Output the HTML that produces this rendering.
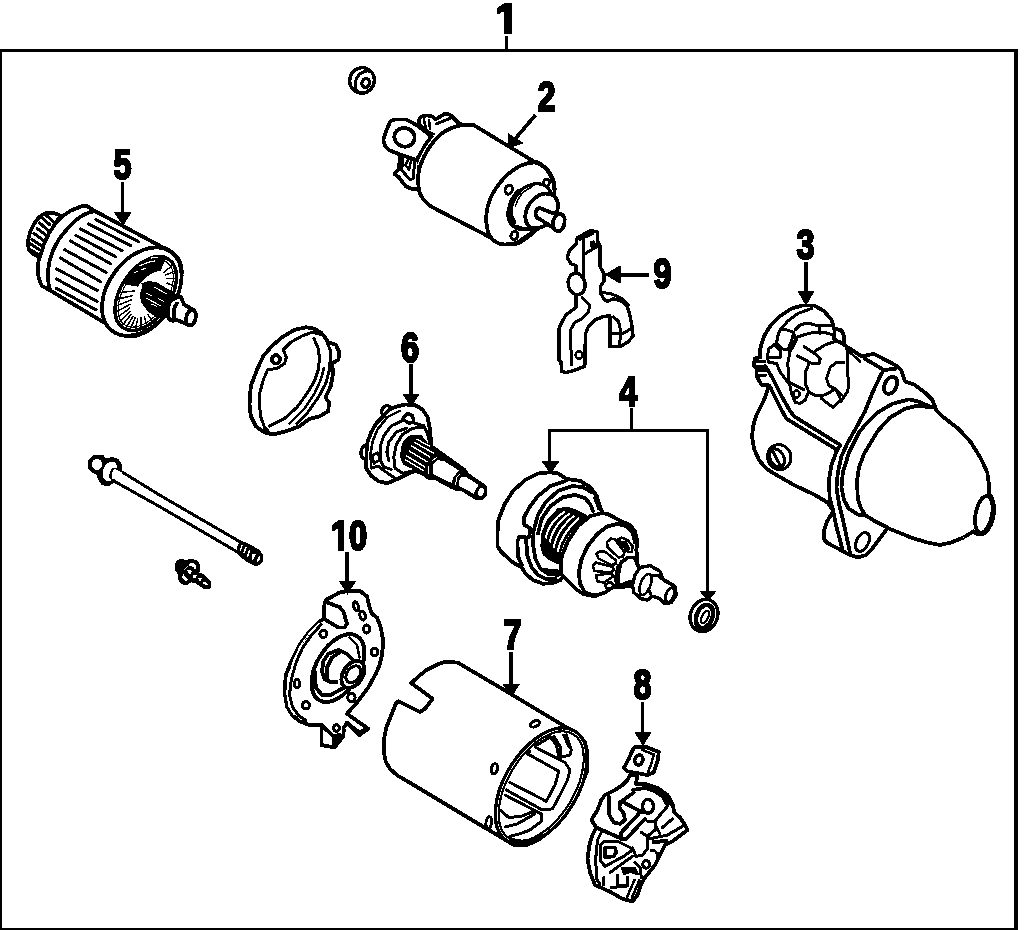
<!DOCTYPE html>
<html>
<head>
<meta charset="utf-8">
<title>Starter motor parts diagram</title>
<style>
html,body{margin:0;padding:0;background:#fff;}
body{width:1024px;height:930px;overflow:hidden;font-family:"Liberation Sans",sans-serif;}
svg{display:block;position:absolute;left:0;top:0;}
.ln{fill:none;stroke:#000;stroke-width:3.8;stroke-linecap:round;stroke-linejoin:round;}
.l3{fill:none;stroke:#000;stroke-width:3;stroke-linecap:round;stroke-linejoin:round;}
.th{fill:none;stroke:#000;stroke-width:2.6;stroke-linecap:round;stroke-linejoin:round;}
.hv{fill:none;stroke:#000;stroke-width:3.6;stroke-linecap:round;stroke-linejoin:round;}
.wf{fill:#fff;stroke:#000;stroke-width:3.8;stroke-linecap:round;stroke-linejoin:round;}
.wt{fill:#fff;stroke:#000;stroke-width:2.6;stroke-linecap:round;stroke-linejoin:round;}
.hl{fill:none;stroke:#000;stroke-width:1.5;stroke-linecap:round;}
.bk{fill:#000;stroke:#000;stroke-width:1;stroke-linejoin:round;}
.wh{fill:#fff;stroke:none;}
.lead{fill:none;stroke:#000;stroke-width:3.7;stroke-linecap:butt;stroke-linejoin:miter;}
.num{font-family:"Liberation Sans",sans-serif;font-weight:bold;font-size:42.5px;fill:#000;stroke:#000;stroke-width:2.4;stroke-linejoin:round;text-anchor:middle;}
</style>
</head>
<body>
<svg width="1024" height="930" viewBox="0 0 1024 930" shape-rendering="crispEdges">
<!-- 00_frame -->
<g id="frame" fill="#000">
<rect x="0" y="49" width="1018" height="3"/>
<rect x="0" y="49" width="2.2" height="881"/>
<rect x="1014" y="49" width="4" height="881"/>
<rect x="0" y="928" width="1018" height="2"/>
</g>
<!-- 02_solenoid -->
<g id="solenoid">
<!-- rear bracket -->
<path class="wf" d="M419 124L419.5 118.500C421 116 424 115.500 428 115.500C431 115.500 433.500 117 435.500 119.500L444.500 114C447 113 450 114.500 452.500 117L458.500 123L463 125.500L452 131L436 140L430 136Z"/>
<path class="l3" d="M436 124L450 118.500"/>
<path class="th" d="M423.800 119.500L426.500 130.500L433.500 134M429 120L430 128.500"/>
<!-- lower tab -->
<path class="wf" d="M400 155L399 169L394.500 174L399 177.500L406 186.500L412 189L419 189L419 160Z"/>
<path class="l3" d="M403 158L401.600 170L409.800 179.500L413 178.800L414.800 161.500"/>
<path class="th" d="M408 160L405.400 165L409 169.500L411 161"/>
<!-- terminal lug -->
<path class="wf" d="M417.500 125.500L406 119.400L395 119.400C392 119.800 390.500 121 389.500 123L386 131.500L383.500 139C383.300 142 384 144 385 145.500C386.500 148 388 149.500 390 150.500L400 154.500L416.500 160L426 144L431.500 136.500Z"/>
<ellipse class="ln" cx="404.500" cy="137.300" rx="10.200" ry="9.300" transform="rotate(15 404.5 137.3)"/>
<!-- body -->
<path class="wf" d="M462.500 125L473.500 125L533 161C545 164 553 174 554.500 186C556 205 545 225 528 237L519 243C513 245 508 245 503 244L431 206.500C425 202 420 196 419 190C417.500 180 418.500 170 420.500 165C425 152 432 142 441 134C448 129 455 126 462.500 125Z"/>
<path d="M436.500 134.500C428.500 143 421.500 154 417.800 165" fill="none" stroke="#fff" stroke-width="1.200"/>
<!-- front face -->
<path class="wf" d="M535 162.500C518 162 500 178 490.500 198C484 214 485 232 493 240C497 243.500 501 244.500 505 244.500L517.500 243L532.500 233C545 224 553 210 554.500 196C555.500 180 548 166 535 162.500Z"/>
<ellipse class="l3" cx="508.800" cy="189.600" rx="3.600" ry="4.600" transform="rotate(20 508.8 189.6)"/>
<ellipse class="l3" cx="546.300" cy="183" rx="3" ry="4" transform="rotate(25 546.3 183)"/>
<ellipse class="l3" cx="514.400" cy="235.600" rx="3.400" ry="4.200" transform="rotate(20 514.4 235.6)"/>
<path class="ln" d="M517.500 242.500L533 232"/>
<!-- boss -->
<ellipse cx="530" cy="206.600" rx="25.800" ry="18.400" transform="rotate(131.7 530 206.6)" fill="#fff" stroke="#000" stroke-width="3.3"/>
<path d="M513.500 222C507.500 214 509.500 201 518.500 192" fill="none" stroke="#000" stroke-width="5.500" stroke-linecap="round"/>
<path class="hl" d="M515.500 206C518 197 524 190 532 187"/>
<path class="ln" d="M516 226.500C522 229.500 530 230 536.500 228.500L548 224.500"/>
<path class="wf" d="M545 193.500C537 194.500 529 202 526 211C524 218 526 225 531 227.500C535 229 541 228 547 224.500C554 220 558.500 212 558 204C557.500 198 553 193.500 545 193.500Z"/>
<!-- plunger -->
<path class="wf" d="M540 208C537 208.500 535.500 211 535.500 213.500C535.500 216 537 218 539.500 219L553 227.500C555 230.500 557.500 231.500 559.500 231C562 230 564 226.500 564.500 222.500C565 218.500 564 215.500 562 214.500L552 213Z"/>
<path class="ln" d="M556.500 215C553.500 218 552 223.500 553.500 228"/>
</g>
<!-- 03_motor -->
<g id="motor">
<!-- main silhouette -->
<path class="wf" d="M760.300 357.300L760.300 348.500L764 336L770.300 326L780.300 316L791.500 308.500L802.800 305.400L814 305.400L824 311L831.500 319.800L834 328.500L841.500 330.400L844 336L844 344.800L861.300 356.300L873.800 353.800L896.300 365.600L901.300 370L905 381.300L915 385L925 392.500L932.500 400L936.300 410L943.800 417.500L958.500 428.800L971 442.500L981 458.800L987.300 472.500L989 485L989 494C993 498 994.500 504 994 512C993 524 987 534 981 534.400C978 534.400 975 533 973.500 531.300L963.500 537.500L951 542.500L939.800 545L927.300 542.500L912.300 538L887.500 528L871.300 550L866.300 555L857.500 557.500L850 555L827.500 543L824.400 540L823.800 531.300L827 521.300L833.500 511L827.500 502.500L815 495L794 485L776.500 475L766.500 468.800L759 460L754 448.800L752 436.300L753.400 425L756.500 415L764 400L769 385.400L761.500 384.800L756.500 376L756.500 368.500L754 366L754.600 358.500Z"/>
<!-- bracket -->
<path class="l3" d="M756.500 361.500L764.500 361.500M757 375L766 375"/>
<path class="bk" d="M757 365.500L765.500 365.500L768 371.500L757.500 371.500Z"/>
<!-- flange arcs top -->
<path class="l3" d="M781.500 328.500L787.800 321L797.800 313.500L811.500 308.500"/>
<!-- windows -->
<path class="l3" d="M780.300 329L786.500 329.800L794 332.300L791.500 341L787.800 349.800L782.800 349L776.500 343.500L777.800 336Z"/>
<path class="l3" d="M774 344.800L769 348.500L767 357.300L769 362.300L776.500 363.500L780.300 372.300L787.800 382.300M769 357.300L780.300 357.300L780.300 351L774 344.800"/>
<path class="l3" d="M793 333L797 339L790 352"/>
<!-- flange edge lines -->
<path class="ln" d="M765.300 366L772.800 378.500L781.500 396L790.300 411.300L794 416.300L840.300 445L836.500 451.300"/>
<path class="ln" d="M770.300 387.300L781.500 410L786.500 418.800L835.300 448.800"/>
<!-- solenoid mount ring -->
<path class="l3" d="M834 339.800L832.800 334.800L824 332.300L814 332.300L804 334.800L796.500 337.300L790.300 349.800L787.800 363.500L789 381L791.500 393.500L795.300 402.300L800.300 403.500L805.300 399.800L807.800 393.500"/>
<path class="l3" d="M795.300 329.800L800.300 324.800L807.800 323L819 326L830.300 325.400M819 326L820.300 333.500M834 331L835.300 339.800L844 343.500"/>
<!-- inner cylinder -->
<path class="l3" d="M809 363.500L805.300 372.300L805.300 383.500L809 392.300L816.500 396L825.300 394.800L834 389.800"/>
<path class="l3" d="M815.300 351L825.300 344.800L836.500 341L844 344.800"/>
<path class="l3" d="M804 346.600L816.500 354.800L820.300 358.500L819 363.500L812.800 364L797.800 356"/>
<path class="l3" d="M844 362.300L836.500 362.300L830.300 367.300L826.500 378.500L829 386L835.300 388.500L841.500 394.800"/>
<path class="l3" d="M846.500 346L847.800 356L847 372.300L849 381L847.800 391L842.800 398.500L832.800 407.300L821.500 398.500M836.500 391L841.500 401"/>
<!-- small bolt -->
<path class="l3" d="M791.500 383.500L799 387.300L804 389.800"/>
<ellipse class="th" cx="796.500" cy="394" rx="3" ry="3.500"/>
<!-- plug -->
<ellipse class="l3" cx="779.300" cy="457.100" rx="12.600" ry="11.600" transform="rotate(70 779.3 457.1)"/>
<ellipse class="l3" cx="777" cy="458" rx="9.600" ry="6.800" transform="rotate(62 777 458)"/>
<path class="l3" d="M772.500 450.500L780.500 466"/>
<!-- right top details -->
<path class="th" d="M848.800 351.300L860 361.300"/>
<path class="ln" d="M865 358.800L883.800 370L895 368.800"/>
<path class="ln" d="M883.800 370L881.300 373.800L872.500 392.500L865 411.300L856.300 427.500L847.800 442.500L841.500 456.300L837.800 472.500L836.500 487.500L839 503.800L843 520L850 552.500"/>
<ellipse class="ln" cx="890.600" cy="385.300" rx="9" ry="6" transform="rotate(115 890.6 385.3)"/>
<!-- motor body arcs -->
<path class="ln" d="M836.500 451.300L831.500 465L829 480L829.600 497.500L833 510L836.300 526.300L840 540L842.500 550"/>
<path class="ln" d="M932.500 407.500L917.500 401.300L908.800 399.400L892.500 403.800L877.500 412.500L865 425L859 432.500L849 452.500L842.800 472.500L841.500 487.500L844 500L848.800 508.800L858.800 515L865 515"/>
<path class="ln" d="M931.300 407.500L917.500 405.600L905 408.800L890 417.500L877.500 431.300L868.800 446L864 453.800L859 467.500L857 481.300L857.800 498.800L861.300 508.800L865 515L875 521.300L887.500 527.500"/>
<!-- lower ear -->
<ellipse class="l3" cx="862.500" cy="541.900" rx="10" ry="6" transform="rotate(116 862.5 541.9)"/>
<!-- end boss -->
<ellipse class="wf" cx="983.800" cy="514.400" rx="18.600" ry="8.200" transform="rotate(101 983.8 514.4)"/>
</g>
<!-- 04_clutch -->
<g id="clutch">
<!-- housing outline -->
<path class="wf" d="M550.500 472.300L538 473.500L525.500 479.800L513 491L504.300 504.800L498 521L497.400 536L497.400 546.300L501.800 552.500L513 562.500L521.800 567.500L525.500 573.800L533 580L543 583.800L553 583L560.500 580L563 576.300L575.500 588.800L583 593.800L594.300 596.300L605 592.500L612.500 587.500L633 586L637.500 558.800L636.300 550L637.500 542.500L635 531.300L630 525L620 520.600L607.500 513.800L603 513.500L600.500 508.500L596.800 496L590.500 487.300L580.500 481L566.800 479L558 473.500Z"/>
<!-- flange / notch -->
<path class="ln" d="M566.800 480.400L550.500 486L538 496L529.300 507.300L523.600 518.500L524.300 524.800L530.500 528.500L529.300 536L528 537.500L519.300 537L517.400 541.300L518 556.300L521.800 565"/>
<path class="ln" d="M526 538.800L527.400 556.300L531.800 567.500L538 575L545.500 578.800L555.500 578.800"/>
<path class="ln" d="M591.800 492.300L583 487.300L573 486L558 491L545.500 502.300L538 514.800L533.600 531L533 545L535.500 558.800L540.500 568.800L548 573.800L558 575"/>
<path class="ln" d="M593 511L590.500 504.800L585.500 498.500L575.500 494.800L563 497.300L550.500 506L541.800 518.500L538 533.500"/>
<path d="M595 496L600 509" fill="none" stroke="#000" stroke-width="5"/>
<!-- spring (dark with white arcs) -->
<path class="bk" d="M558 508.500L568 507.300L575.500 509.800L585.500 514.800L588 517.300L578 526L569.300 537.300L563 551L561.800 562.300L555.500 559.800L545.500 553.500L541.800 546L541.800 533.500L546.800 521Z"/>
<path d="M545.500 538.500C548 527 555 517.500 565 511.500M549.500 542.500C552 531 558.500 521 570 513.500M553.500 548C555.500 537 562 525.500 574.500 515.500M557.500 552C559.500 541 566 529.500 579 518M561.500 555C563 546 569.500 534 583 520.500M565 553C567 546 573 536 585.500 524" fill="none" stroke="#fff" stroke-width="2"/>
<path class="ln" d="M541.800 545L544.300 553.800L550.500 558.800L558 562.500M543 570L558 571.300"/>
<path d="M560.500 557.500L561 576.300" fill="none" stroke="#000" stroke-width="4.200"/>
<!-- barrel front -->
<path class="ln" d="M590.500 516L578 526L568 541L561.800 556L560.500 572"/>
<path class="ln" d="M590.500 516L600.500 513.500"/>
<path class="ln" d="M612.500 587.500L605 592.500L595 595.600L585 592.500L580 583.800L578.800 572.500L581.300 560L587.500 546.300L597.500 533.800L607.500 526.300L617.500 523.800L626.300 526.300L632.500 532.500L635 542.500"/>
<!-- pinion gear -->
<g fill="#fff" stroke="#000" stroke-width="2.600" stroke-linejoin="round">
<path d="M605 585L610 582L613.500 584.500L612 588L606.500 588Z"/>
<path d="M596 575.500L612 573L613 576.500L604 582.500L597.500 581.500Z"/>
<path d="M593 566L595.500 562.500L613 567L613.500 570.500L609.500 572.500L594.500 571Z"/>
<path d="M596.500 553.500L600.500 551L605.500 552L616 560.500L615.500 564L611.500 565L598.500 558.500Z"/>
<path d="M617.500 540L621.500 537.500L627.500 540L632.500 546L632 552L628.500 552Z"/>
<path d="M607 542L611 538.500L615 539.500L624.500 552L623 556.500L618.500 557.500L607.500 547Z"/>
</g>
<path class="bk" d="M620.500 541L626 541.500L630 548.500L628.500 550Z"/>
<!-- hub cone -->
<path class="wf" d="M618 584.500L617.500 571L621.500 562L628 557.500L634.500 557.500L639 568L635.500 581.500L627.500 582.500L621.500 585Z"/>
<path d="M619 566.500L617 577L617.500 585.500" fill="none" stroke="#000" stroke-width="5.500" stroke-linecap="round"/>
<!-- collar + shaft -->
<path d="M640 567.500L650 565.600L660 571.300L662.500 578.800L675 586.300L676.300 595L671.300 602.500L665 603.800L660 598.800L652.500 596.300L647.500 600L641.300 598.800L633.800 592.500L632.500 585L635 575Z" fill="#fff" stroke="#000" stroke-width="3.400" stroke-linejoin="round"/>
<ellipse class="th" cx="645.500" cy="584.500" rx="11" ry="5" transform="rotate(110 645.5 584.5)"/>
<path class="l3" d="M651 575.500L657.500 575.500L665 581.300L674 586M648.500 589L651 594.500"/>
<ellipse class="l3" cx="670" cy="595" rx="7.600" ry="4" transform="rotate(112 670 595)"/>
</g>
<g id="washer4">
<ellipse cx="704" cy="615.500" rx="16.500" ry="13.500" transform="rotate(112 704 615.5)" fill="#fff" stroke="#000" stroke-width="3.400"/>
<ellipse cx="704.500" cy="616.500" rx="12" ry="8" transform="rotate(112 704.5 616.5)" fill="#fff" stroke="#000" stroke-width="4.500"/>
<ellipse cx="705" cy="617" rx="6.500" ry="3" transform="rotate(115 705 617)" fill="#fff" stroke="#000" stroke-width="2.200"/>
</g>
<!-- 05_armature -->
<g id="armature">
<!-- small pinion at left end -->
<path class="wf" d="M62 217C58 213.800 52 212.300 46 213.200C39.500 215 34 222.500 30.500 231C28 238 27.500 245.500 29 249.500C31 253.500 35 255.500 40 257.500L48 240L58 222Z"/>
<path class="ln" d="M59 218C52.500 226.500 45.500 240 42 256"/>
<path class="l3" d="M46 215L53.500 222M43 218.500L49.800 224.800M39.800 223L48.500 231M37.300 228.500L45.400 234.800M33.800 233.300L43.500 240.400M31.800 239.300L41 245.400M30.600 244L39 249.300M31 250L37.500 254"/>
<!-- collar + body outline -->
<path class="wf" d="M62 216.5L71 210.5L81 206.5L86.5 205.5L93 210L163 247.5C176 252 183 262 181.5 275C180 300 160 330 135 336C128 337 124 334 120 332L49.5 290L42 286C38 279 36.5 270 39 259L40 257C44 240 52 226 62 216.5Z"/>
<path class="ln" d="M93.5 211.5C82 213 70 224 58.5 240C51 252 47.5 266 48 278C48.3 283 49 287 50 290"/>
<!-- slots -->
<path class="l3" d="M96 219.8L138.5 241.6M88.5 224L130.5 245.5M80.5 229L122 250.6M76 235.4L116 257M70.4 241L111 264M64.8 249.8L106 272.3M60.4 258L100.4 281.6M56.6 269L97.3 290.4M56.6 279L97.3 301.6M56.6 288.5L96 309.8"/>
<!-- end face -->
<ellipse class="wf" cx="141.8" cy="291.6" rx="49.2" ry="33.3" transform="rotate(127.1 141.8 291.6)"/>
<ellipse cx="145.7" cy="293.5" rx="41.200" ry="24.800" transform="rotate(123.7 145.7 293.5)" fill="#fff" stroke="#000" stroke-width="3.400"/>
<ellipse cx="145.7" cy="293.5" rx="37.800" ry="21.600" transform="rotate(123.7 145.7 293.5)" fill="none" stroke="#000" stroke-width="1.200"/>
<!--GEN5-->
<path class="bk" d="M123.7 283.8L125.1 281.6L126.5 279.3L128.1 277.2L129.7 275.1L131.5 273.1L133.2 271.2L135.1 269.3L136.9 267.6L138.9 266.0L140.8 264.6L142.8 263.2L144.8 262.0L146.7 261.0L148.7 260.0L150.7 259.3L152.6 258.6L154.5 258.2L156.4 257.9L158.2 257.7L160.0 257.7L161.7 257.9L163.4 258.2L164.9 258.7L160.1 270.9L159.2 270.8L158.4 270.9L157.5 271.0L156.5 271.1L155.6 271.4L154.6 271.7L153.6 272.1L152.6 272.5L151.6 273.1L150.6 273.7L149.6 274.3L148.5 275.0L147.5 275.8L146.4 276.6L145.4 277.5L144.4 278.5L143.4 279.4L142.4 280.5L141.4 281.6L140.5 282.7L139.6 283.8L138.7 285.0L137.8 286.2Z"/>
<path class="hl" d="M151.4 311.7L157.7 316.3M147.8 314.4L152.3 321.2M144.3 316.5L146.7 325.0M140.9 317.8L141.0 327.6M137.8 318.2L135.5 329.1M135.1 317.7L130.4 329.2M132.9 316.5L125.9 328.1M131.2 314.4L122.0 325.7M130.2 311.6L119.0 322.1M129.8 308.2L117.0 317.5M130.1 304.3L116.0 312.0M131.1 300.0L116.1 305.9M132.7 295.5L117.3 299.3M134.8 291.0L119.5 292.5"/>
<path class="hl" d="M163.9 272.3L172.5 265.2M165.9 274.9L174.8 271.1M167.1 278.5L175.4 278.3M167.1 283.1L174.4 286.3M166.1 288.3L171.8 294.8M164.2 293.9L167.7 303.2"/>
<path d="M139 266L149 262M141 270L146 268M134 273L138 271M151 258L158 257.5M147 262.5L155 261" fill="none" stroke="#fff" stroke-width="1.2"/>
<!--/GEN5-->
<!-- hub -->
<path class="bk" d="M141.5 284L148 281.5L156 282.5L177 295L170 304L172 314L166 317L158 318L148 311L141.5 302L140 293Z"/>
<path class="wh" d="M139.5 283.5C141 283 142.5 284.5 142 287L139.5 295C138 296 137 295 137.5 293Z"/>
<path class="wh" d="M134.5 297.5C137 297 139 299 140 302L145 309C143 311 138 311 135.5 308.5C133.5 305 133.5 301 134.5 297.5Z"/>
<path d="M154 287L167 294M146.5 293L152 296M158 298.5L164 301.5M146 298L161 306M151.5 304L157 306.5" fill="none" stroke="#fff" stroke-width="1"/>
<!-- collar + stub -->
<path class="wf" d="M171 301C174 298 178 296.5 181 297L184 304.5L193.5 310C196 312 196.5 316 195 320.5C193.5 324 191 326 188.5 325L176 319.5C174 321 171.5 321 169.5 319.5C167 316.5 167 309 169.5 303Z"/>
<path class="ln" d="M177 303.5C174.500 306 173 312 174 318"/>
<path class="ln" d="M191.500 309.500C188 311 185 317 186 323"/>
</g>
<!-- 06_shaft -->
<g id="shaft6">
<!-- carrier plate outline -->
<ellipse cx="386.500" cy="411" rx="4.500" ry="5.500" transform="rotate(30 386.5 411)" fill="#fff" stroke="#000" stroke-width="3.400"/>
<ellipse cx="365" cy="452" rx="4" ry="6.500" transform="rotate(10 365 452)" fill="#fff" stroke="#000" stroke-width="3.400"/>
<path class="wf" d="M405 404.500L395 407L389 410L382.500 417L376.300 423.300L371.300 432L367.500 442L366.500 452L366.300 468.300L371.300 475.800L378.800 481.400L387.500 483.300L396.300 479.500L403.800 475.800L415 470.800L430 476L431.300 444.500L430 429.500L427.500 417L422.500 409.500L415 405Z"/>
<path class="th" d="M400 410.800L387.500 417L377.500 429.500L372.500 442L370.500 454.500L371.300 467"/>
<path class="l3" d="M402.500 420.800L391.300 425.800L383.800 435.800L380 447L380 459.500L383.800 467L391.300 469.500"/>
<path class="l3" d="M406.300 428.300L396.300 432L388.800 442L386.900 452L388.800 460.800"/>
<path class="l3" d="M422.500 427L412.500 428.300L402.500 434.500L396.300 444.500L393.800 457L395 468.300L402.500 473.300L412.500 470.800"/>
<path class="l3" d="M415 423.300L423.800 425.800L427.500 433.300L430 444.500"/>
<path d="M402.500 419L407.500 413.300L412.500 415.800L413.800 422L408.800 423.300Z" fill="#fff" stroke="#000" stroke-width="3.400" stroke-linejoin="round"/>
<path class="th" d="M372 456L377.500 452.500L380 459.500L374 463.500Z"/>
<path class="l3" d="M371.500 468L378 466L386 472L396 479"/>
<!-- splined section + shaft silhouette -->
<path class="bk" d="M410 435.800L421.300 435.800L427.500 443.300L432.500 445.500L446.600 455.600L465.300 468.900L468.400 473.600L486.400 486.100L486.800 494.700L482.500 499.400L476.300 499.800L460.600 490L457.500 490.800L451.300 488.400L434 479L427.800 479L420 473.300L412.500 468.300L403.800 464.500L400.500 457L401.500 447L404 441Z"/>
<path d="M413.800 442L433.800 453.300M411.300 445.800L430 457M408.800 450.800L427.500 462M406.300 455.800L425 467M405 459.500L423.800 470.800M416.500 439L430 446.500" fill="none" stroke="#fff" stroke-width="1.400"/>
<path class="wh" d="M432.900 465L436.800 460.300L443.400 460.700L459 470.500L453.600 476.700L451.600 483L432.900 474Z"/>
<path class="wh" d="M459 480.600L461.400 477.100L466.900 477.500L478.600 485L475.900 489.200L473.900 493.900L459 485.700Z"/>
<ellipse class="wh" cx="481" cy="492" rx="2.800" ry="4.300" transform="rotate(25 481 492)"/>
<path d="M455.500 485.300L456.700 477.500L459.800 474.400M428.600 465.800L428.200 474.400M431.700 461.100L437.200 457.200" fill="none" stroke="#fff" stroke-width="1"/>
</g>
<!-- 07_yoke -->
<g id="yoke">
<path class="wf" d="M562.500 725L498 686.300L457.500 662.500L445 662L437.500 664.400L426.300 670L418.800 676.300L411.300 683L432.500 698.800L425 708.800L420 712L398.800 701.300L396.300 702.500L391.300 715L386.300 727.500L383.800 740L383.800 751.300L385.600 761.300L390 768.800L397.500 775.600L407.500 781.300L445 803.800L482.500 826.300L501.300 837.500L513.800 845L527 845L540 839L557.500 823.800L570 807.500L582.500 782.500L587.500 770L587.500 752.500L585 742.500L577.500 733.800Z"/>
<!-- small holes -->
<ellipse class="l3" cx="535" cy="723.800" rx="4.800" ry="2.800" transform="rotate(-25 535 723.8)"/>
<ellipse class="l3" cx="494.400" cy="768.800" rx="3" ry="5.200" transform="rotate(12 494.4 768.8)"/>
<ellipse class="l3" cx="488.800" cy="822.500" rx="2.800" ry="5.800" transform="rotate(8 488.8 822.5)"/>
<!-- face ellipses -->
<ellipse cx="541.200" cy="786.200" rx="64.500" ry="36.500" transform="rotate(121.5 541.2 786.2)" fill="#fff" stroke="#000" stroke-width="3.300"/>
<ellipse cx="541.200" cy="786.200" rx="61" ry="33" transform="rotate(121.5 541.2 786.2)" fill="none" stroke="#000" stroke-width="2.200"/>
<!-- pole piece -->
<path class="l3" d="M535 747L565 762.500L570 770L567.500 780L560 795L552.500 808.800L542.500 810L506.300 790"/>
<path class="l3" d="M527.500 753.800L558.800 771.300L555 785L546.300 801.300L510 782.500"/>
<path class="l3" d="M530 751.300L527.500 753.800"/>
<path class="l3" d="M535 746.300L550 737"/>
<path class="l3" d="M550 736.300L556.300 745L558.800 756.300"/>
<path class="l3" d="M553.800 736.300L560 746.300L560 757.500L570 755L571.300 750L566.300 735"/>
<path class="l3" d="M563.800 735L568.800 746.300"/>
<!-- lower pole -->
<path class="l3" d="M505 795L533.800 810L541.300 813.800L541.300 821.300L530 830L520 833.800L510 836.300"/>
<path class="l3" d="M500 810L508.800 817.500L521.300 816.300L533.800 811.300"/>
<path class="l3" d="M505 827L517.500 823.800L535 813.800"/>
<!-- bottom band -->
<path d="M511 839.500C520 843.500 531 842 541 835.500" fill="none" stroke="#000" stroke-width="4.500" stroke-linecap="round"/>
</g>
<!-- 08_brushholder -->
<g id="brushholder">
<!-- body silhouette -->
<path class="wf" d="M630 775L627.500 780L622.500 785L615 790L605 795L601.300 800L597.500 810L591.300 820L596.300 827.500L592.500 835L589.400 845L587.500 858.800L590 872.500L595 885L603.800 888.800L611.300 892.500L622.500 898.800L632.500 901.300L637.500 895L641.300 883.800L645 877.500L655 865L660 855L665 845L672.500 841.300L687.500 830L685 825L680 817.500L674.400 812.500L672.500 803.800L667.500 795L657.500 788L645 783.800L636 783.800L637.500 775Z"/>
<!-- terminal -->
<path class="wf" d="M635 747L646.300 747L658.800 752L657.500 761.300L653.800 772.500L647.500 775L636.300 773L627.500 771.300L623.800 768L628.800 758.800L632.500 750Z"/>
<path class="th" d="M642.500 750L653.800 754.400L651.300 763.800L648 772"/>
<ellipse cx="638.800" cy="760" rx="4" ry="5" transform="rotate(15 638.8 760)" fill="#fff" stroke="#000" stroke-width="3.600"/>
<!-- upper arc thick -->
<path d="M645 784.500L657.500 788.500L667 795.500L672 804" fill="none" stroke="#000" stroke-width="5" stroke-linecap="round"/>
<path class="ln" d="M633 790L645 788L655 791.300L662.500 796.300L667.500 805"/>
<!-- S curve -->
<path class="ln" d="M608.800 796.300L609.400 815L613.800 822.500L620 823.800L625 820L623.800 813.800L619.400 807.500L620 802.500L625 798.800L633.800 792.500"/>
<path class="ln" d="M623.800 802.500L642.500 812.500"/>
<ellipse cx="648" cy="806.300" rx="5.400" ry="7" fill="#fff" stroke="#000" stroke-width="3.400"/>
<!-- arm -->
<path class="ln" d="M638.800 813.800L621.300 832.500L620.600 838.800L626.300 838.800L645 818.800"/>
<path class="ln" d="M596.300 827.500L618.800 837.500"/>
<!-- right details -->
<path class="l3" d="M667.500 806.300L660 815L655 821.300L647.500 821.300"/>
<path class="l3" d="M655 825L660 833.800M662.500 827.500L672.500 818.800"/>
<path class="l3" d="M641.300 832.500L647.500 836.300L655 830L656 822"/>
<path class="l3" d="M650 838.800L667.500 835L682.500 826.300"/>
<path d="M652 842L668 841" fill="none" stroke="#000" stroke-width="4"/>
<path class="l3" d="M647.500 837.500L647.500 848.800L642.500 855L636 856.500L632.500 848"/>
<!-- lower-left -->
<path class="l3" d="M602.500 830L597.500 840L595.600 860L597 880L600 883.800"/>
<path class="l3" d="M603.800 841.300L617.500 841.300L630 847.500L632.500 850L623.800 856.300L605 866.300L600 860L600 846.300Z"/>
<path d="M605 847.500L615 847.500L616.300 852.500L613.800 856.300L605 857.500Z" fill="#fff" stroke="#000" stroke-width="3.600" stroke-linejoin="round"/>
<path class="l3" d="M610 872.500L632.500 856.300"/>
<path class="bk" d="M621.300 867.500L635 867.500L638.800 875L630 872.500L623.800 875Z"/>
<path class="l3" d="M603.800 877.500L603.800 885M617.500 875L617.500 885L627.500 885L627.500 877.500M611.300 887.500L627.500 886"/>
<path class="th" d="M634.500 880L627 897M639.300 880.500L632 897.500"/>
<ellipse class="l3" cx="646.300" cy="864.400" rx="3.600" ry="3.800"/>
<path class="l3" d="M635 862.500L640 867.500L641.300 877.500"/>
<path class="l3" d="M651.300 850.600L655 851"/>
<path class="bk" d="M655.500 851.500L660 853L657 860Z"/>
</g>
<!-- 09_fork -->
<g id="fork">
<path style="stroke-width:3.4" class="wf" d="M591 230.600L597.300 232L598 243.800L599.800 245L599.800 266.300L604 273.800L604 281.300L600.400 286.300L601 293.800L604 299.400L607.300 301.300L613.500 298.800L622.300 301.300L627.300 306.300L629.800 315L632.300 327.500L633 336L628.500 341.500L621 346.300L609.800 346.300L609.800 315.600L602.300 317L594.800 320L588.500 326.300L585.400 333.800L584.800 366.300L573.500 370.600L566 372.500L561.600 371.300L561 361.300L559 360L559 328.800L561.600 322.500L566 315L576 307.500L576 297.500L576 265.600L571 263.800L567.300 257.500L569.800 250L576 243.800L577.300 238L586 233Z"/>
<path class="l3" d="M583.500 240L583.500 279"/>
<path class="l3" d="M579.800 239.400L592.300 233.800M584.800 253.800L597.300 246.300"/>
<path d="M590.500 241.500L594 240L596.500 245.500L591.500 248L589.500 245Z" fill="#000"/>
<ellipse cx="576.600" cy="284" rx="8.400" ry="10.800" transform="rotate(-12 576.6 284)" fill="#fff" stroke="#000" stroke-width="3.400"/>
<path class="l3" d="M582.300 297.500L589.800 305L588.500 312L581 319.400L574.800 322.500L571 328.800L570.400 335L571.600 365"/>
<path class="l3" d="M602.300 292.500L611 293.800L621 298L628.500 305"/>
<path class="l3" d="M613.500 317L618.500 321.300L620.400 330L619.800 345M611 333L622.300 333.800L631 328.800"/>
<ellipse class="th" cx="579" cy="355" rx="3.300" ry="3.800"/>
</g>
<!-- 10_brushplate -->
<g id="brushplate">
<path class="wf" d="M347 591.300L359.500 590.600L367 596.300L369.500 607.500L372 613.800L377 617.500L380.800 627.500L383.300 641.300L382 655L379.500 665L375.800 673.800L368.300 687.500L357 702.500L347 713.800L368.300 728.800L359.500 735L347 722.500L343.900 727.500L343.300 736.300L334.500 747.500L321.400 745L321.400 725L309.500 725L299.500 721.300L292 715L287 706.300L284.500 691.300L285.800 675L292 660L299.500 645L309.500 631.300L319.500 621.300L323.900 618.800L324.500 602.500L327 599.400L339.500 592.500Z"/>
<path class="l3" d="M321.300 624.300L311.300 635.500L302.500 648L296.300 661.800L291.300 679.300L289.500 695L292.500 707L298.800 715.800L306 720.500"/>
<path d="M319.500 622.800L309.600 632.800L300.300 645.900L293.400 660.500L288.400 678L286.700 693L289 706.500L294.500 715.500" fill="none" stroke="#fff" stroke-width="1.100"/>
<path class="ln" d="M327 602.500L339.500 607L343.300 611.300L347 623.800L344.500 627.500L338.300 627.500L325.800 620"/>
<!-- holes -->
<ellipse class="l3" cx="356" cy="606.300" rx="2.3" ry="4.5" transform="rotate(-15 356 606.3)"/>
<ellipse class="l3" cx="362.600" cy="615.600" rx="2.7" ry="4.5" transform="rotate(-10 362.6 615.6)"/>
<ellipse class="l3" cx="366.800" cy="629" rx="3.1" ry="4.1"/>
<ellipse class="l3" cx="374.500" cy="652" rx="3.1" ry="3.9"/>
<ellipse class="l3" cx="323.300" cy="633.800" rx="3.5" ry="3.7"/>
<ellipse class="l3" cx="297" cy="683.800" rx="2.7" ry="4.3"/>
<ellipse class="l3" cx="305.800" cy="705.300" rx="3.7" ry="3.7"/>
<ellipse class="l3" cx="351.400" cy="697.500" rx="3.7" ry="4.3"/>
<ellipse class="l3" cx="336.400" cy="728" rx="3.1" ry="3.3"/>
<!-- tab details -->
<path class="ln" d="M321.400 725L333.300 736.300L339.500 735M333.300 736.300L334.500 746.300"/>
<path class="bk" d="M334.500 737L342.500 736.500L335 746.500Z"/>
<path class="ln" d="M349.500 725L359.500 732.500L364.500 730"/>
<!-- center ring -->
<ellipse cx="338" cy="668.100" rx="37.200" ry="21.500" transform="rotate(120.5 338 668.1)" fill="#fff" stroke="#000" stroke-width="4"/>
<path class="th" d="M349.500 637.500L357 645L359.500 657.500"/>
<path class="ln" d="M315 672.500L315.800 687.500L322 695L330.800 695L339.500 690L344.500 687.500"/>
<path class="ln" d="M322 671.300L323.300 661.300L328.300 653.800L338.300 650L347 653.800L353.300 660"/>
<path class="ln" d="M327 677.500L327 667.500L332 657.500L339.500 652.500"/>
<path d="M322 671.300L324.500 678.800L330.800 682L338.300 682" fill="none" stroke="#000" stroke-width="4"/>
<!-- hub -->
<ellipse class="wf" cx="352.900" cy="674.400" rx="14.800" ry="9.800" transform="rotate(123 352.9 674.4)"/>
<ellipse cx="353.300" cy="674.300" rx="9.300" ry="6.300" transform="rotate(126 353.3 674.3)" fill="#fff" stroke="#000" stroke-width="3"/>
</g>
<!-- 11_washer_top -->
<g id="washer-top">
<ellipse cx="362" cy="80.400" rx="12.300" ry="12.800" transform="rotate(20 362 80.4)" fill="#fff" stroke="#000" stroke-width="3.4"/>
<path d="M371 71.500C364 69.500 357 74 355.500 82C354.500 88 356.500 92 360.500 93.500" fill="none" stroke="#000" stroke-width="3"/>
<ellipse cx="365.700" cy="83" rx="3.700" ry="4.500" transform="rotate(20 365.7 83)" fill="#fff" stroke="#000" stroke-width="3.4"/>
</g>
<!-- 12_cover -->
<g id="cover">
<path class="wf" d="M273.300 434.400L264.500 432.500L255.800 426.300L250.800 416.300L249.500 404L250.800 386L257 369.800L263.300 356L272 346L282 337.300L294.500 329.800L305.800 327.300L313.300 328.500L320.800 332.300L325.800 338.500L328.300 342.300L335.800 344.800L339.500 352.300L338.300 359.800L332 363.500L333.300 372.300L330.800 386L325.500 397.500L328.900 402.500L328.300 411.300L319.500 416.300L309.500 418.800L299.500 426.300L285.800 431.300Z"/>
<path class="l3" d="M268.300 431.300L264.500 427.500L260.500 416L259 396L263.300 379.800L267.600 369.800L277 368.500L284.500 363.500L286.400 357.300L283.300 349.800L290.800 342.300L302 336L312 332.300L320.800 334.500"/>
<ellipse cx="276" cy="359.400" rx="4" ry="4.300" fill="#fff" stroke="#000" stroke-width="3.800"/>
<path class="l3" d="M313.900 338.500L318.300 348.500L319.500 358.500L318.300 369.800L314.500 381L307 393.500L297 407.300L284.500 418.500L269.500 426"/>
<path class="th" d="M323.900 368L320.800 379.800L314.500 393.500L304.500 408.500L289.500 423.500"/>
<path class="l3" d="M325.800 338.500L329.500 348.500L330.800 351L329.500 369.800L325.800 383.500L318.300 397.300L307 413.500L297 423.500"/>
</g>
<!-- 13_bolt -->
<g id="bolt">
<!-- shaft -->
<path d="M118 469.500L160 495.300L208 523.200L240 541.800L250 546L259 551.500L261.800 556L261 562L256.500 564.800L247.500 560.800L236.500 551.500L208 534.800L160 506.800L112 480Z" fill="#fff" stroke="#000" stroke-width="3" stroke-linejoin="round"/>
<path d="M240 541.800L250 546L259 551.500L261.800 556L261 562L256.500 564.800L247.500 560.800L236.800 552L237 546.500Z" fill="#000"/>
<path d="M242 545.500L240.500 550M246 547.500L244 552.500M249.500 550.500L247.500 556.500" fill="none" stroke="#fff" stroke-width="1.500" stroke-linecap="round"/>
<path class="wh" d="M252 553.500L256 553.500L253.500 558.500L252 560Z"/>
<path class="wh" d="M259.500 556L260 559.500L257 563L257.500 559Z"/>
<!-- head -->
<path class="bk" d="M93.800 455L102.500 455L106 459L112 457.500L118 459.500L121 464L121.500 470L113 483L108 486L102 484.500L98.500 479.500L97 474.500L92 472L88 468L88.500 461Z"/>
<ellipse class="wh" cx="97" cy="464.400" rx="5.200" ry="5.600"/>
<path d="M103 471C104 465 108 461.500 112.500 461.500C116 462 117 465 117.500 468L113.500 467.500C110.500 469 108.500 473 109.500 478L111.500 480.500C108 482 104.500 481 103.500 478C102.800 476 102.700 473.500 103 471Z" fill="#fff"/>
<path d="M114.500 468.500C112 471 111.500 475 112.500 478.500L119 481.500L122 472.500Z" fill="#fff"/>
</g>
<g id="screw">
<path class="bk" d="M181 559L186 560.500L191.600 559.300L196 560.500L199 563.600L199.800 568L198.800 573L203.500 574.300L208.500 579.300L211 583L210.700 586.800L208.500 589L204 588.600L199.800 585.500L196 583L191 581.800L186 584.900L181.600 583.600L178.500 579.300L177.900 573L175.400 569.900L175 564.300L177.900 560.500Z"/>
<path class="wh" d="M187.900 564.900L191 563L194.100 563.300L196 566.100L195.400 569.900L193.500 567.400L191 566.100Z"/>
<path class="wh" d="M182.900 573L182.300 578L185.400 581.100L188.500 579.900L185.400 577.400L183.800 574.300Z"/>
<path class="wh" d="M187.300 570.500L189.800 569.900L192 571.400L189.800 574.900Z"/>
<path class="wh" d="M192.900 574.900L197 574.900L196 578L192.900 577.700Z"/>
<path class="wh" d="M197.900 578L202.300 578.300L199.800 582Z"/>
<path class="wh" d="M202.900 583L205 581.100L207.900 584.900L203.500 584.300Z"/>
<path d="M184 570L188 566" fill="none" stroke="#fff" stroke-width="0.800"/>
</g>
<!-- 90_labels -->
<g id="leaders">
<line class="lead" x1="506.5" y1="36" x2="506.5" y2="50"/>
<!-- 2 -->
<line class="lead" x1="535.5" y1="115" x2="515" y2="139"/>
<path class="bk" d="M508.5 134L522.5 143L509 148Z"/>
<!-- 3 -->
<line class="lead" x1="806" y1="262" x2="806" y2="292"/>
<path class="bk" d="M798 291H814L806 305Z"/>
<!-- 4 -->
<path class="lead" style="stroke-width:3" d="M631 408V432M549.5 462V430.500H707.500V592"/>
<path class="bk" d="M542 461H559L550.5 473Z"/>
<path class="bk" d="M700 591H716L708 601Z"/>
<!-- 5 -->
<line class="lead" x1="122.5" y1="182" x2="122.5" y2="213"/>
<path class="bk" d="M114.5 212.5H131L123 225Z"/>
<!-- 6 -->
<line class="lead" x1="411" y1="364" x2="411" y2="395"/>
<path class="bk" d="M403 394H419L411 406Z"/>
<!-- 7 -->
<line class="lead" x1="511.3" y1="652" x2="511.3" y2="685"/>
<path class="bk" d="M503 684H519.5L511.3 696.5Z"/>
<!-- 8 -->
<line class="lead" x1="642.5" y1="702" x2="642.5" y2="733"/>
<path class="bk" d="M635 732.5H651L643 745Z"/>
<!-- 9 -->
<line class="lead" x1="649" y1="275.3" x2="619" y2="275.3"/>
<path class="bk" d="M620 266V283L605.5 274.5Z"/>
<!-- 10 -->
<line class="lead" x1="347" y1="552" x2="347" y2="582"/>
<path class="bk" d="M339.5 581H355.5L347.5 594Z"/>
</g>
<defs><filter id="bin" x="-5%" y="-5%" width="110%" height="110%" color-interpolation-filters="sRGB"><feComponentTransfer><feFuncA type="discrete" tableValues="0 1"/></feComponentTransfer></filter><clipPath id="clip1"><path d="M490 0H520V27H512.2V36H503.9V27H490Z"/></clipPath><clipPath id="clip10"><path d="M325 510H375V556H351V543H344.4V556H337.6V543H325Z"/></clipPath></defs>
<g id="labels" filter="url(#bin)">
<g clip-path="url(#clip1)"><text class="num" transform="translate(506.8,33) scale(0.97,1)">1</text></g>
<text class="num" transform="translate(546.5,111) scale(0.765,1)">2</text>
<text class="num" transform="translate(805.5,259) scale(0.765,1)">3</text>
<text class="num" transform="translate(628,406) scale(0.765,1)">4</text>
<text class="num" transform="translate(122.5,179) scale(0.765,1)">5</text>
<text class="num" transform="translate(410,362) scale(0.765,1)">6</text>
<text class="num" transform="translate(512.5,649) scale(0.765,1)">7</text>
<text class="num" transform="translate(642.5,699) scale(0.765,1)">8</text>
<text class="num" transform="translate(662.5,288) scale(0.765,1)">9</text>
<g clip-path="url(#clip10)"><text class="num" transform="translate(349,549.5) scale(0.765,1)">10</text></g>
</g>

</svg>
</body>
</html>
